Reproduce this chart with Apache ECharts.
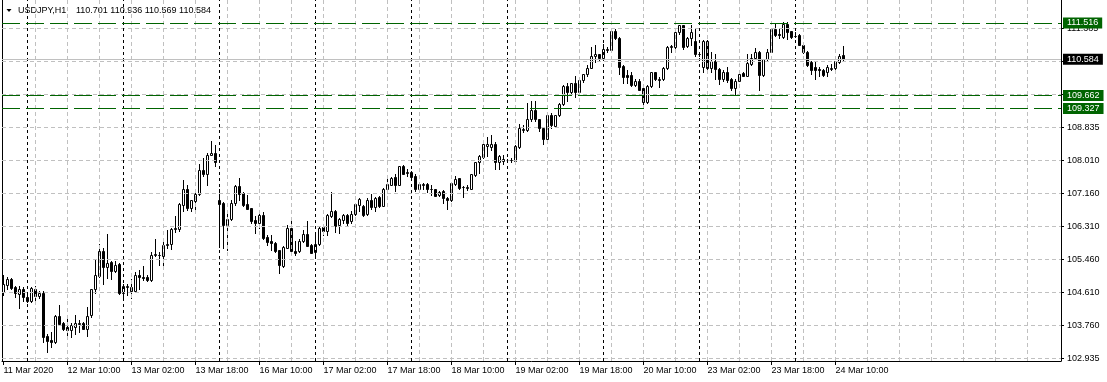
<!DOCTYPE html>
<html><head><meta charset="utf-8">
<script src="https://cdn.jsdelivr.net/npm/echarts@6.0.0/dist/echarts.min.js"></script>
<style>html,body{margin:0;padding:0;background:#fff}#c{width:1107px;height:382px}</style>
</head><body><div id="c"></div>
<script>
const symbolName = 'USDJPY,H1';
const opens = [
104.64,104.81,104.96,104.76,104.58,104.71,104.52,104.41,104.72,104.54,
104.60,103.51,103.41,103.36,104.03,103.85,103.73,103.67,103.73,103.82,
103.85,103.70,104.04,104.70,105.05,105.68,105.28,105.40,105.18,105.35,
104.62,104.77,104.77,104.66,105.08,105.02,105.01,104.93,105.59,105.59,
105.56,105.83,105.85,106.24,106.24,106.87,107.28,106.79,106.97,107.13,
107.75,107.64,108.15,108.20,107.00,106.90,106.36,106.50,106.90,107.34,
107.16,106.88,106.78,106.47,106.41,106.60,106.04,105.93,105.90,105.70,
105.30,105.76,106.26,105.69,105.68,105.93,106.13,105.83,105.66,105.85,
106.30,106.20,106.58,106.70,106.34,106.47,106.60,106.45,106.62,106.86,
106.84,106.62,107.00,106.81,107.06,106.84,107.27,107.38,107.57,107.38,
107.85,107.69,107.71,107.61,107.26,107.38,107.39,107.27,107.26,107.11,
107.21,107.03,106.99,107.40,107.54,107.32,107.30,107.28,107.62,107.95,
108.09,108.36,108.34,108.43,107.95,107.99,108.01,108.00,107.98,108.35,
108.77,108.77,109.05,109.28,109.05,108.84,108.56,109.16,108.88,109.16,
109.45,109.90,109.75,109.97,109.74,110.05,110.20,110.37,110.66,110.71,
110.62,110.83,110.83,111.30,111.13,110.42,110.18,110.18,109.92,110.03,
109.84,109.50,109.90,110.25,110.05,110.09,110.35,110.90,110.90,111.29,
111.46,110.93,111.14,111.06,110.73,110.38,111.06,110.36,110.53,110.34,
110.07,110.27,110.08,109.85,110.04,110.23,110.17,110.47,110.62,110.78,
110.19,110.58,110.78,111.36,111.23,111.15,111.49,111.30,111.19,111.21,
110.95,110.78,110.51,110.38,110.34,110.32,110.27,110.34,110.36,110.51,
110.701];
const highs = [
105.06,105.02,105.00,104.79,104.79,104.77,104.57,104.77,104.79,104.66,
104.66,103.55,103.62,104.04,104.30,103.87,103.94,103.83,104.04,103.91,
103.87,104.24,104.72,105.49,105.86,105.75,106.11,105.42,105.42,105.38,
104.85,104.85,104.98,105.15,105.19,105.29,105.06,105.66,106.00,105.66,
105.93,106.22,106.26,106.58,106.91,107.49,107.37,107.00,107.24,107.92,
108.05,108.18,108.49,108.39,107.26,106.94,106.66,106.98,107.38,107.56,
107.18,107.11,106.78,106.57,106.70,106.67,106.09,106.09,105.92,105.72,
105.81,106.36,106.46,105.93,105.98,106.22,106.44,105.87,106.09,106.30,
106.36,106.62,107.18,106.73,106.53,106.62,106.64,106.70,106.92,107.04,
106.87,107.03,107.15,107.07,107.09,107.30,107.62,107.58,107.64,107.86,
107.87,107.77,107.74,107.64,107.41,107.43,107.42,107.37,107.28,107.23,
107.24,107.07,107.43,107.61,107.55,107.34,107.37,107.66,107.96,108.13,
108.46,108.60,108.64,108.46,108.13,108.13,108.03,108.05,108.39,108.94,
108.90,109.48,109.51,109.53,109.07,108.86,109.22,109.22,109.17,109.48,
109.92,109.97,109.98,110.16,110.09,110.22,110.43,110.89,110.95,110.73,
110.97,110.90,111.35,111.35,111.16,110.43,110.31,110.25,110.07,110.09,
109.88,109.92,110.26,110.26,110.14,110.39,110.93,110.96,111.37,111.47,
111.47,111.16,111.47,111.36,110.78,111.08,111.08,110.78,110.72,110.36,
110.30,110.38,110.10,110.08,110.26,110.26,110.72,110.72,110.87,110.81,
110.60,110.85,111.38,111.52,111.38,111.53,111.53,111.32,111.28,111.24,
110.98,110.81,110.55,110.55,110.38,110.34,110.44,110.47,110.55,110.72,
110.936];
const lows = [
104.55,104.71,104.71,104.51,104.23,104.41,104.38,104.38,104.43,104.47,
103.36,103.09,103.22,103.34,103.79,103.66,103.53,103.49,103.57,103.62,
103.68,103.51,104.00,104.62,105.02,104.83,105.00,104.98,105.15,104.59,
104.47,104.55,104.49,104.64,104.72,104.95,104.92,104.92,105.56,105.32,
105.32,105.75,105.74,106.17,106.20,106.70,106.73,106.70,106.73,107.11,
107.60,107.37,108.13,107.86,105.79,105.75,105.70,106.47,106.87,106.98,
106.84,106.75,106.39,106.15,106.28,106.00,105.83,105.70,105.66,105.13,
105.28,105.75,105.66,105.58,105.66,105.92,105.80,105.62,105.53,105.83,
106.09,106.09,106.56,106.16,106.15,106.39,106.36,106.40,106.60,106.70,
106.58,106.60,106.75,106.70,106.80,106.84,107.24,107.37,107.23,107.37,
107.64,107.61,107.55,107.21,107.24,107.28,107.20,107.11,107.09,107.09,
106.90,106.75,106.97,107.37,107.28,107.07,107.24,107.26,107.61,107.69,
108.07,108.12,108.26,107.79,107.79,107.92,107.95,107.95,107.96,108.32,
108.73,108.75,109.02,109.00,108.75,108.43,108.54,108.83,108.86,109.14,
109.41,109.51,109.71,109.62,109.71,110.01,110.16,110.35,110.52,110.56,
110.56,110.78,110.82,111.10,110.22,109.97,109.97,109.91,109.90,109.80,
109.33,109.48,109.88,110.05,109.88,110.05,110.33,110.76,110.78,111.24,
110.86,110.90,110.94,110.66,110.68,110.26,110.26,110.26,110.08,109.96,
110.04,110.00,109.79,109.68,110.02,110.15,110.15,110.45,110.60,109.81,
110.15,110.55,110.77,111.18,111.12,111.12,111.11,111.12,111.15,110.94,
110.75,110.41,110.21,110.07,110.15,110.17,110.17,110.32,110.34,110.49,
110.569];
const closes = [
104.83,104.96,104.74,104.60,104.72,104.51,104.41,104.74,104.54,104.60,
103.49,103.39,103.36,104.03,103.81,103.70,103.67,103.79,103.85,103.85,
103.70,104.03,104.71,105.06,105.68,105.28,105.37,105.18,105.32,104.62,
104.78,104.79,104.66,105.07,105.02,105.00,104.95,105.59,105.60,105.57,
105.83,105.85,106.25,106.26,106.88,107.28,106.79,106.98,107.13,107.75,
107.64,108.15,108.20,107.96,106.89,106.34,106.50,106.90,107.34,107.14,
106.85,106.77,106.46,106.41,106.60,106.02,105.92,105.90,105.69,105.32,
105.78,106.26,105.68,105.64,105.95,106.13,105.81,105.64,105.85,106.28,
106.20,106.60,106.70,106.32,106.49,106.60,106.41,106.62,106.89,107.01,
106.60,107.00,106.81,107.04,106.84,107.28,107.40,107.54,107.38,107.85,
107.66,107.71,107.58,107.26,107.39,107.39,107.27,107.26,107.10,107.20,
107.03,106.99,107.41,107.53,107.30,107.32,107.31,107.64,107.95,108.11,
108.43,108.42,108.42,107.95,108.12,108.03,108.00,108.01,108.36,108.82,
108.80,109.05,109.28,109.05,108.83,108.56,109.16,108.90,109.16,109.45,
109.90,109.75,109.97,109.74,110.05,110.20,110.37,110.66,110.71,110.62,
110.84,110.86,111.30,111.12,110.39,110.14,110.14,109.94,110.03,109.81,
109.50,109.90,110.25,110.07,110.09,110.37,110.90,110.93,111.29,111.46,
110.90,111.13,111.28,110.72,110.71,111.06,110.37,110.53,110.34,110.07,
110.27,110.05,109.85,110.04,110.22,110.17,110.49,110.62,110.78,110.19,
110.58,110.78,111.36,111.21,111.21,111.49,111.28,111.15,111.18,110.95,
110.78,110.44,110.32,110.32,110.30,110.19,110.38,110.37,110.53,110.68,
110.584];
const timeLabels = ['11 Mar 2020','12 Mar 10:00','13 Mar 02:00','13 Mar 18:00','16 Mar 10:00',
  '17 Mar 02:00','17 Mar 18:00','18 Mar 10:00','19 Mar 02:00','19 Mar 18:00',
  '20 Mar 10:00','23 Mar 02:00','23 Mar 18:00','24 Mar 10:00'];
const barsPerLabel = 16;
const barsPerGridLine = 8;
const daySeparators = [6, 30, 54, 78, 102, 126, 150, 174, 198];
const priceLabels = ['102.935','103.760','104.610','105.460','106.310','107.160','108.010','108.835','','','111.385'];
const priceBase = 102.935, priceStep = 0.84375;
const levelLines = [111.516, 109.662, 109.327];
const bidPrice = 110.584;

// ---------- layout ----------
const W = 1107, H = 382;
const gridL = 2, gridR = 46, gridT = 0, gridB = 21;
const pxPerBar = 4;
const xMin = -1.5 / pxPerBar;
const xMax = xMin + (W - gridL - gridR) / pxPerBar;
const pxPerPrice = 33 / priceStep;
const yMin = priceBase - 2.5 / pxPerPrice;
const yMax = yMin + (H - gridT - gridB) / pxPerPrice;
const FONT = '"Liberation Sans", Arial, sans-serif';
const FS = 9;
const GREEN = '#006400';

const candles = opens.map((o, i) => [i, o, closes[i], lows[i], highs[i]]);
const xTickPos = timeLabels.map((_, k) => k * barsPerLabel);
const yTickVals = priceLabels.map((_, k) => priceBase + k * priceStep);

const gridMarks = [];
for (let i = barsPerGridLine; i < xMax - 2; i += barsPerGridLine) {
  gridMarks.push({xAxis: i, lineStyle: {color: '#c0c0c0', width: 1, type: [4, 3]}});
}
yTickVals.forEach(v => gridMarks.push({yAxis: v, lineStyle: {color: '#c0c0c0', width: 1, type: [4, 3]}}));
daySeparators.forEach(i => gridMarks.push({xAxis: i, lineStyle: {color: '#000', width: 1, type: [3, 3]}}));

function tag(bg) {
  return {show: true, position: 'end', distance: 2, formatter: p => Number(p.value).toFixed(3),
    backgroundColor: bg, color: '#fff', padding: [1, 4, 0, 4], lineHeight: 10,
    fontSize: FS, fontFamily: FONT};
}
const levelMarks = levelLines.map(v => ({yAxis: v, lineStyle: {color: GREEN, width: 1, type: [18, 6]}, label: tag(GREEN)}));
levelMarks.push({yAxis: bidPrice, lineStyle: {color: '#c0c0c0', width: 1, type: 'solid'}, label: tag('#000')});

function renderCandle(params, api) {
  const i = api.value(0);
  const o = api.value(1), c = api.value(2), l = api.value(3), h = api.value(4);
  const pO = api.coord([i, o]), pC = api.coord([i, c]);
  const pH = api.coord([i, h]), pL = api.coord([i, l]);
  const cx = Math.floor(pO[0] + 0.01) + 0.5;
  const yT = Math.round(Math.min(pO[1], pC[1]));
  const yB = Math.round(Math.max(pO[1], pC[1]));
  const bull = c > o;
  return {type: 'group', children: [
    {type: 'line', shape: {x1: cx, y1: Math.round(pH[1]), x2: cx, y2: Math.round(pL[1]) + 1},
      style: {stroke: '#000', lineWidth: 1}},
    {type: 'rect', shape: {x: cx - 1, y: yT + 0.5, width: 2, height: yB - yT},
      style: {fill: bull ? '#fff' : '#000', stroke: '#000', lineWidth: 1}}
  ]};
}

const last = opens.length - 1;
const headerVals = [opens[last], highs[last], lows[last], closes[last]].map(v => v.toFixed(3)).join(' ');

const chart = echarts.init(document.getElementById('c'), null, {renderer: 'canvas'});
chart.setOption({
  animation: false,
  backgroundColor: '#fff',
  grid: {left: gridL, right: gridR, top: gridT, bottom: gridB, containLabel: false},
  xAxis: {
    type: 'value', min: xMin, max: xMax,
    axisLine: {show: true, onZero: false, lineStyle: {color: '#000', width: 1}},
    axisTick: {show: true, customValues: xTickPos, length: 4, lineStyle: {color: '#000'}},
    axisLabel: {show: true, customValues: xTickPos, align: 'left', margin: 5,
      formatter: v => timeLabels[Math.round(v / barsPerLabel)] || '',
      color: '#000', fontSize: FS, fontFamily: FONT},
    splitLine: {show: false}
  },
  yAxis: [{
    type: 'value', position: 'right', min: yMin, max: yMax, scale: true,
    axisLine: {show: true, onZero: false, lineStyle: {color: '#000', width: 1}},
    axisTick: {show: true, customValues: yTickVals, length: 3, lineStyle: {color: '#000'}},
    axisLabel: {show: true, customValues: yTickVals, margin: 6,
      formatter: v => priceLabels[Math.round((v - priceBase) / priceStep)] || '',
      color: '#000', fontSize: FS, fontFamily: FONT},
    splitLine: {show: false}
  }, {
    type: 'value', position: 'left', min: yMin, max: yMax, scale: true,
    axisLine: {show: true, onZero: false, lineStyle: {color: '#000', width: 1}},
    axisTick: {show: false}, axisLabel: {show: false}, splitLine: {show: false}
  }],
  graphic: [
    {type: 'polygon', shape: {points: [[6.5, 9], [11.5, 9], [9, 12]]}, style: {fill: '#000'}},
    {type: 'text', x: 18, y: 11, style: {text: symbolName, fill: '#000', fontSize: FS, fontFamily: FONT, verticalAlign: 'middle'}},
    {type: 'text', x: 76, y: 11, style: {text: headerVals, fill: '#000', fontSize: FS, fontFamily: FONT, verticalAlign: 'middle'}}
  ],
  series: [
    {type: 'line', data: [], z: 1, silent: true,
      markLine: {silent: true, symbol: ['none', 'none'], animation: false, precision: 5,
        label: {show: false}, emphasis: {disabled: true}, data: gridMarks}},
    {type: 'custom', data: candles, encode: {x: 0, y: [1, 2, 3, 4]}, renderItem: renderCandle, z: 3, clip: false, silent: true},
    {type: 'line', data: [], z: 5, silent: true,
      markLine: {silent: true, symbol: ['none', 'none'], animation: false, precision: 3,
        emphasis: {disabled: true}, data: levelMarks}}
  ]
});
</script></body></html>
